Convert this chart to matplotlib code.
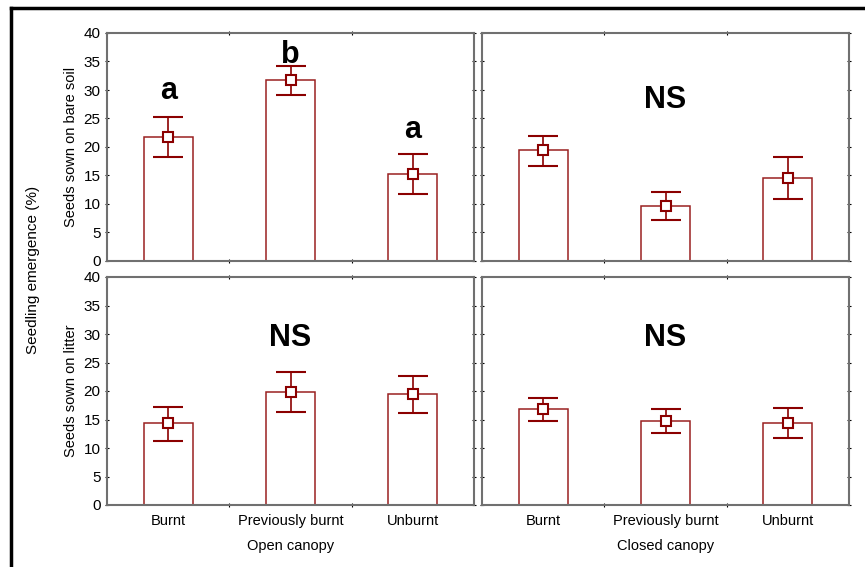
import matplotlib.pyplot as plt
from matplotlib.lines import Line2D

plt.rcParams['font.family'] = ['Liberation Sans', 'DejaVu Sans']

categories = ['Burnt', 'Previously burnt', 'Unburnt']
canopies = ['Open canopy', 'Closed canopy']
rows = ['Seeds sown on bare soil', 'Seeds sown on litter']

# means and error bar limits, [row][canopy][category]
means = [[[21.7, 31.7, 15.2], [19.4, 9.7, 14.6]],
         [[14.3, 19.9, 19.4], [16.8, 14.7, 14.4]]]
upper = [[[25.3, 34.2, 18.7], [21.9, 12.1, 18.3]],
         [[17.2, 23.3, 22.7], [18.8, 16.9, 17.1]]]
lower = [[[18.2, 29.2, 11.8], [16.7, 7.2, 10.8]],
         [[11.2, 16.3, 16.1], [14.7, 12.6, 11.7]]]

# significance letters: (row, canopy) -> list of (x, y, text)
letters = {(0, 0): [(0, 29.8, 'a'), (1, 36.1, 'b'), (2, 22.9, 'a')],
           (0, 1): [(1, 28.3, 'NS')],
           (1, 0): [(1, 29.3, 'NS')],
           (1, 1): [(1, 29.3, 'NS')]}

W, H = 865, 567
fig = plt.figure(figsize=(W / 100, H / 100), dpi=100)

red = '#8b0000'
spine_col = '#707070'
lefts = [107, 482]
tops = [33, 277]
aw, ah = 367, 228

for r in range(2):
    for c in range(2):
        ax = fig.add_axes([lefts[c] / W, 1 - (tops[r] + ah) / H, aw / W, ah / H])
        x = list(range(3))
        m = means[r][c]
        lo = [m[i] - lower[r][c][i] for i in range(3)]
        hi = [upper[r][c][i] - m[i] for i in range(3)]
        ax.bar(x, m, width=0.4, facecolor='white', edgecolor='#9a2020', lw=1.1, zorder=2)
        ax.errorbar(x, m, yerr=[lo, hi], fmt='s', color=red, ecolor=red, elinewidth=1.2,
                    capsize=11, capthick=1.2, markersize=7, markerfacecolor='white',
                    markeredgecolor=red, markeredgewidth=1.5, zorder=3)
        for xx, yy, t in letters[(r, c)]:
            ax.text(xx, yy, t, ha='center', va='center', fontsize=22, fontweight='bold')
        ax.set_xlim(-0.5, 2.5)
        ax.set_ylim(0, 40)
        ax.set_yticks(range(0, 41, 5))
        ax.set_xticks([0.5, 1.5])
        ax.set_xticklabels([])
        ax.tick_params(axis='both', direction='inout', length=3, width=0.8, colors='black',
                       top=True, right=True, labelsize=11, pad=3)
        for s in ax.spines.values():
            s.set_color(spine_col)
            s.set_linewidth(1.5)
        if c == 1:
            ax.set_yticklabels([])
        else:
            ax.set_ylabel(rows[r], fontsize=10.5, labelpad=4)
        if r == 1:
            for i, lab in enumerate(categories):
                ax.text(i, -1.5, lab, ha='center', va='top', fontsize=10.5)
            ax.text(1, -5.9, canopies[c], ha='center', va='top', fontsize=10.5)

fig.text(33 / W, 1 - 270 / H, 'Seedling emergence (%)', rotation=90, ha='center',
         va='center', fontsize=11)

# outer frame (left and top only)
fig.add_artist(Line2D([11 / W, 11 / W], [0, 1 - 8 / H], color='black', lw=2.5,
                      transform=fig.transFigure))
fig.add_artist(Line2D([11 / W, 1], [1 - 8 / H, 1 - 8 / H], color='black', lw=2.5,
                      transform=fig.transFigure))

fig.savefig('out.png', dpi=100)
